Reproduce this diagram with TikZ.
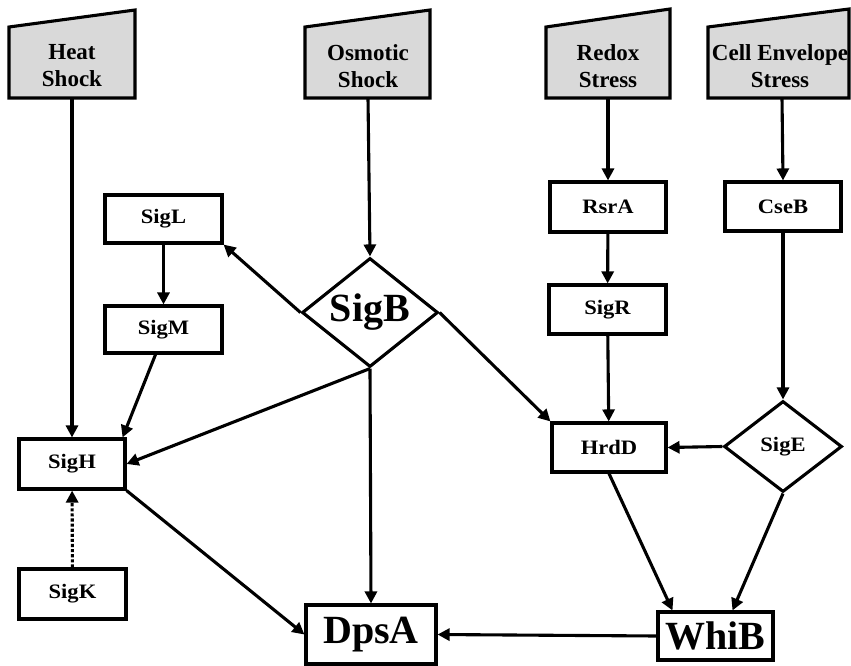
\documentclass[tikz,border=0pt]{standalone}
\usepackage{fontspec}
\setmainfont{Liberation Serif}
\usetikzlibrary{arrows.meta,shapes.geometric}
\definecolor{stressgray}{RGB}{217,217,217}
\newcommand{\sxw}[1]{\scalebox{1.1}[1]{#1}}
\begin{document}
\begin{tikzpicture}[x=1pt,y=-1pt,
  lw/.style={line width=3.1pt},
  arr/.style={lw,-{Triangle[length=12pt,width=12pt]}},
  dotarr/.style={lw,dotted,-{Triangle[length=12pt,width=12pt]}},
  box/.style={draw,lw,rectangle,inner sep=0pt,font=\fontsize{20.5}{24}\selectfont\bfseries},
  bigbox/.style={draw,lw,rectangle,inner sep=0pt,font=\fontsize{40}{44}\selectfont\bfseries},
  dia/.style={draw,lw,diamond,inner sep=0pt,aspect=1.25},
  stressshape/.style={draw,lw,fill=stressgray,line join=miter},
  stresstxt/.style={align=center,font=\fontsize{23}{27}\selectfont\bfseries}
]
\useasboundingbox (0,0) rectangle (851,666);

% stress input shapes
\draw[stressshape] (9,98) -- (9,27) -- (135,10) -- (135,98) -- cycle;
\node[stresstxt] (heat) at (72,66) {Heat\\Shock};
\coordinate (heatb) at (72,98);
\draw[stressshape] (305,98) -- (305,27) -- (430,10) -- (430,98) -- cycle;
\node[stresstxt] (osm) at (368,66) {Osmotic\\Shock};
\coordinate (osmb) at (368,98);
\draw[stressshape] (546,98) -- (546,27) -- (670,9) -- (670,98) -- cycle;
\node[stresstxt] (redox) at (608,66) {Redox\\Stress};
\coordinate (redoxb) at (608,98);
\draw[stressshape] (708,98) -- (708,27) -- (849,9) -- (849,98) -- cycle;
\node[stresstxt] (cell) at (780,66) {Cell Envelope\\Stress};
\coordinate (cellb) at (782,98);

% nodes
\node[box,minimum width=117pt,minimum height=48pt] (sigL) at (163.5,219) {\sxw{SigL}};
\node[box,minimum width=117pt,minimum height=47pt] (sigM) at (163.5,329.5) {\sxw{SigM}};
\node[box,minimum width=106pt,minimum height=50pt] (sigH) at (72,464) {\sxw{SigH}};
\node[box,minimum width=107pt,minimum height=50pt] (sigK) at (72.5,594) {\sxw{SigK}};
\node[box,minimum width=116pt,minimum height=50pt] (rsrA) at (608,207) {\sxw{RsrA}};
\node[box,minimum width=117pt,minimum height=49pt] (sigR) at (607.5,309.5) {\sxw{SigR}};
\node[box,minimum width=116pt,minimum height=49pt] (cseB) at (783,206.5) {\sxw{CseB}};
\node[box,minimum width=114pt,minimum height=49pt] (hrdD) at (609,447.5) {\sxw{HrdD}};
\node[bigbox,minimum width=130pt,minimum height=59pt] (dpsA) at (371,634.5) {DpsA};
\node[bigbox,minimum width=115pt,minimum height=48pt] (whiB) at (715.5,636) {WhiB};
\node[dia,minimum width=136pt,minimum height=109pt,font=\fontsize{40}{44}\selectfont\bfseries] (sigB) at (370,312.5) {SigB};
\node[dia,minimum width=118pt,minimum height=91pt,font=\fontsize{20.5}{24}\selectfont\bfseries] (sigE) at (783,446.5) {\sxw{SigE}};

% connectors
\draw[arr] (heatb) -- (sigH.north);
\draw[arr] (osmb) -- (sigB.north);
\draw[arr] (redoxb) -- (rsrA.north);
\draw[arr] (rsrA) -- (sigR);
\draw[arr] (sigR) -- (hrdD);
\draw[arr] (cellb) -- (cseB.north);
\draw[arr] (cseB) -- (sigE.north);
\draw[arr] (sigE.west) -- (hrdD.east);
\draw[arr] (sigL) -- (sigM);
\draw[arr] (sigB.west) -- (sigL.south east);
\draw[arr] (sigB.east) -- (hrdD.north west);
\draw[arr] (sigB.south) -- (sigH.east);
\draw[arr] (sigB.south) -- (dpsA.north);
\draw[arr] ([xshift=-8pt]sigM.south) -- ([xshift=-4pt]sigH.north east);
\draw[arr] (sigH.south east) -- (dpsA.west);
\draw[dotarr] (sigK) -- (sigH);
\draw[arr] (whiB.west) -- (dpsA.east);
\draw[arr] (hrdD.south) -- ([xshift=-43pt]whiB.north);
\draw[arr] (sigE.south) -- ([xshift=17pt]whiB.north);
\end{tikzpicture}
\end{document}
